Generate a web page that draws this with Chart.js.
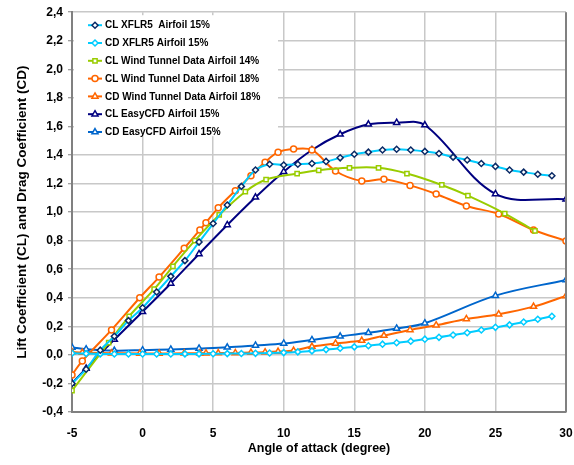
<!DOCTYPE html>
<html>
<head>
<meta charset="utf-8">
<script src="https://cdn.jsdelivr.net/npm/chart.js@4.4.0/dist/chart.umd.min.js"></script>
<style>
  html, body { margin: 0; padding: 0; background: #fff; }
  canvas { display: block; }
</style>
</head>
<body>
<canvas id="chart" width="574" height="465"></canvas>
<script>
"use strict";
// angle of attack (deg) and coefficients
const xflr5Alpha = [-5, -4, -3, -2, -1, 0, 1, 2, 3, 4, 5, 6, 7, 8, 9, 10, 11, 12, 13, 14, 15, 16, 17, 18, 19, 20, 21, 22, 23, 24, 25, 26, 27, 28, 29];
const clXflr5 = [-0.2, -0.1, 0.033, 0.13, 0.24, 0.33, 0.44, 0.55, 0.66, 0.79, 0.92, 1.05, 1.18, 1.295, 1.335, 1.33, 1.335, 1.34, 1.355, 1.38, 1.405, 1.42, 1.435, 1.44, 1.435, 1.425, 1.41, 1.385, 1.365, 1.34, 1.32, 1.295, 1.28, 1.265, 1.255];
const cdXflr5 = [0.012, 0.009, 0.007, 0.006, 0.006, 0.006, 0.006, 0.006, 0.007, 0.007, 0.008, 0.009, 0.010, 0.011, 0.013, 0.016, 0.021, 0.028, 0.037, 0.047, 0.056, 0.064, 0.075, 0.085, 0.096, 0.11, 0.123, 0.139, 0.155, 0.174, 0.193, 0.21, 0.23, 0.25, 0.27];

const wt14Alpha = [-5, -2.4, -0.95, 0.82, 2.15, 3.7, 5.43, 7.28, 8.75, 10.95, 12.48, 14.66, 16.72, 18.73, 21.2, 23.05, 25.66, 27.8];
const clWt14 = [-0.25, 0.086, 0.27, 0.46, 0.62, 0.8, 0.98, 1.143, 1.228, 1.27, 1.293, 1.31, 1.31, 1.27, 1.19, 1.115, 0.99, 0.868];

const wt18Alpha = [-5, -4.27, -2.2, -0.2, 1.17, 2.95, 4.06, 4.49, 5.36, 6.57, 7.68, 8.68, 9.6, 10.7, 12.0, 13.67, 15.53, 17.1, 18.95, 20.8, 22.94, 25.23, 27.7, 30];
const clWt18 = [-0.14, -0.042, 0.175, 0.40, 0.545, 0.747, 0.875, 0.926, 1.03, 1.15, 1.255, 1.35, 1.42, 1.442, 1.435, 1.288, 1.218, 1.23, 1.187, 1.127, 1.043, 0.987, 0.875, 0.798];
const cdWt18 = [0.02, 0.016, 0.012, 0.01, 0.01, 0.011, 0.012, 0.012, 0.013, 0.014, 0.016, 0.019, 0.023, 0.03, 0.058, 0.08, 0.1, 0.135, 0.175, 0.208, 0.252, 0.285, 0.338, 0.413];

const cfdAlpha = [-5, -4, -2, 0, 2, 4, 6, 8, 10, 12, 14, 16, 18, 20, 25, 30];
const clCfd = [-0.2, -0.095, 0.107, 0.302, 0.5, 0.707, 0.91, 1.104, 1.283, 1.435, 1.545, 1.615, 1.626, 1.61, 1.127, 1.09];
const cdCfd = [0.052, 0.04, 0.03, 0.033, 0.038, 0.045, 0.053, 0.066, 0.08, 0.105, 0.13, 0.155, 0.185, 0.222, 0.415, 0.525];

const seriesLabels = [
  "CL XFLR5  Airfoil 15%",
  "CD XFLR5 Airfoil 15%",
  "CL Wind Tunnel Data Airfoil 14%",
  "CL Wind Tunnel Data Airfoil 18%",
  "CD Wind Tunnel Data Airfoil 18%",
  "CL EasyCFD Airfoil 15%",
  "CD EasyCFD Airfoil 15%",
];

const FONT = "'Liberation Sans', Arial, sans-serif";

function pts(xs, ys) {
  return xs.map((x, i) => ({ x: x, y: ys[i] }));
}

function series(label, data, line, marker, style, radius) {
  return {
    label: label,
    data: data,
    borderColor: line,
    backgroundColor: line,
    borderWidth: 2,
    tension: 0.35,
    pointStyle: style,
    pointRadius: radius,
    pointBorderWidth: 1.5,
    pointBorderColor: marker,
    pointBackgroundColor: "#ffffff",
    pointHoverRadius: radius,
  };
}

const datasets = [
  series(seriesLabels[0], pts(xflr5Alpha, clXflr5), "#00ccff", "#0a2a66", "rectRot", 3),
  series(seriesLabels[1], pts(xflr5Alpha, cdXflr5), "#00ccff", "#00ccff", "rectRot", 3),
  series(seriesLabels[2], pts(wt14Alpha, clWt14), "#99cc00", "#99cc00", "rect", 3),
  series(seriesLabels[3], pts(wt18Alpha, clWt18), "#ff6600", "#ff6600", "circle", 3),
  series(seriesLabels[4], pts(wt18Alpha, cdWt18), "#ff6600", "#ff6600", "triangle", 3.5),
  series(seriesLabels[5], pts(cfdAlpha, clCfd), "#000080", "#000080", "triangle", 3.5),
  series(seriesLabels[6], pts(cfdAlpha, cdCfd), "#0066cc", "#0066cc", "triangle", 3.5),
];

// legend drawn inside the plot, top left, on a white box
const insideLegend = {
  id: "insideLegend",
  afterDatasetsDraw(chart) {
    const ctx = chart.ctx;
    const area = chart.chartArea;
    const x0 = area.left + 2;
    const y0 = area.top + 3;
    ctx.save();
    ctx.fillStyle = "#ffffff";
    ctx.fillRect(x0, y0, 204, 121);
    ctx.font = "bold 10px " + FONT;
    ctx.textBaseline = "middle";
    chart.data.datasets.forEach((ds, i) => {
      const y = y0 + 10 + i * 17.8;
      ctx.strokeStyle = ds.borderColor;
      ctx.lineWidth = 2;
      ctx.beginPath();
      ctx.moveTo(x0 + 14, y);
      ctx.lineTo(x0 + 28, y);
      ctx.stroke();
      ctx.strokeStyle = ds.pointBorderColor;
      ctx.fillStyle = "#ffffff";
      ctx.lineWidth = 1.5;
      Chart.helpers.drawPoint(ctx, { pointStyle: ds.pointStyle, radius: ds.pointRadius, borderWidth: 1.5, rotation: 0 }, x0 + 21, y);
      ctx.fillStyle = "#000000";
      ctx.fillText(ds.label, x0 + 31, y + 0.5);
    });
    ctx.restore();
  },
  afterDraw(chart) {
    // right edge of the plot frame
    const ctx = chart.ctx;
    const area = chart.chartArea;
    ctx.save();
    ctx.strokeStyle = "#808080";
    ctx.lineWidth = 2;
    ctx.beginPath();
    ctx.moveTo(area.right, area.top);
    ctx.lineTo(area.right, area.bottom);
    ctx.stroke();
    ctx.restore();
  },
};

new Chart(document.getElementById("chart"), {
  type: "line",
  data: { datasets: datasets },
  plugins: [insideLegend],
  options: {
    responsive: false,
    animation: false,
    events: [],
    layout: { padding: { top: 10, right: 8, left: 0, bottom: 0 } },
    plugins: {
      legend: { display: false },
      tooltip: { enabled: false },
    },
    scales: {
      x: {
        type: "linear",
        min: -5,
        max: 30,
        afterFit: (s) => { s.height = 53; },
        ticks: {
          stepSize: 5,
          padding: 1,
          color: "#000",
          font: { family: FONT, size: 12, weight: "bold" },
          callback: (v) => String(v),
        },
        grid: { color: "#c8c8c8", lineWidth: 1.5, drawTicks: true, tickLength: 13, tickColor: "rgba(0,0,0,0)" },
        border: { color: "#808080", width: 2 },
        title: {
          display: true,
          text: "Angle of attack (degree)",
          color: "#000",
          font: { family: FONT, size: 12.5, weight: "bold" },
          padding: { top: 0, bottom: 9 },
        },
      },
      y: {
        type: "linear",
        min: -0.4,
        max: 2.4,
        afterFit: (s) => { s.width = 72; },
        ticks: {
          stepSize: 0.2,
          padding: 5,
          color: "#000",
          font: { family: FONT, size: 12, weight: "bold" },
          callback: (v) => (Math.abs(v) < 1e-9 ? 0 : v).toFixed(1).replace(".", ","),
        },
        grid: { color: "#c8c8c8", lineWidth: 1.5, tickLength: 4, tickColor: "#808080", tickWidth: 1 },
        border: { color: "#808080", width: 2 },
        title: {
          display: true,
          text: "Lift Coefficient (CL) and Drag Coefficient (CD)",
          color: "#000",
          font: { family: FONT, size: 13.5, weight: "bold" },
          padding: { top: 14, bottom: 0 },
        },
      },
    },
  },
});
</script>
</body>
</html>
